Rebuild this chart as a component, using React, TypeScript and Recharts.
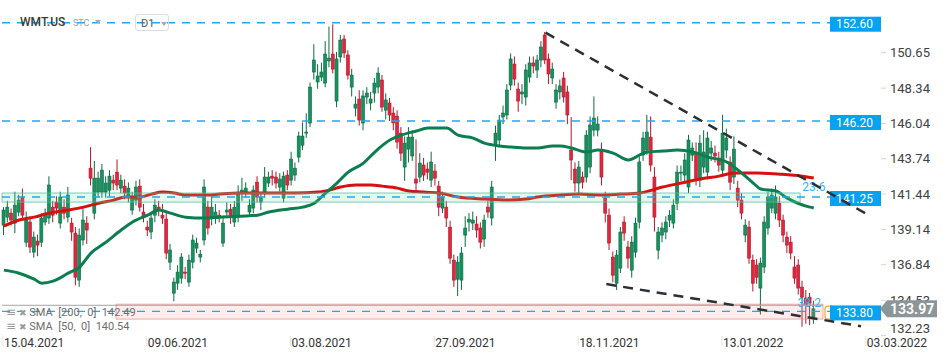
import React from "react";
import {
  ComposedChart,
  Bar,
  Line,
  XAxis,
  YAxis,
  ReferenceLine,
  ReferenceArea,
} from "recharts";

// daily candles, WMT.US D1
const opens = [
  139.42, 139.94, 140.2, 139.55, 140.27, 141.25, 138.31, 139.62, 137.66, 138.38,
  138.31, 139.62, 139.88, 140.59, 140.92, 139.55, 140.59, 139.94, 139.55, 138.9,
  135.84, 138.45, 139.55, 143.13, 140.2, 141.57, 141.57, 141.57, 141.7, 142.35,
  142.87, 141.83, 141.96, 141.25, 140.4, 141.05, 141.96, 140.27, 139.29, 138.97,
  140.07, 140.59, 140.07, 139.81, 137.01, 134.99, 135.64, 135.97, 136.36, 135.71,
  137.01, 137.92, 137.34, 138.45, 140.59, 139.94, 139.88, 140.07, 138.25, 140.27,
  140.46, 139.62, 139.94, 141.51, 141.57, 140.27, 140.53, 142.22, 140.92, 141.57,
  142.16, 142.61, 142.55, 141.9, 141.18, 142.68, 142.35, 142.68, 143.85, 144.63,
  145.41, 146.07, 149.39, 148.74, 149.06, 148.67, 150.11, 150.56, 147.5, 150.37,
  151.54, 150.5, 148.41, 147.04, 147.63, 146.07, 147.76, 147.37, 148.02, 148.41,
  148.87, 146.91, 147.37, 146.72, 146.52, 145.41, 143.2, 144.37, 143.92, 142.42,
  142.55, 143.33, 143.07, 142.35, 142.94, 141.96, 140.53, 140.59, 139.29, 137.14,
  135.9, 135.84, 138.77, 139.62, 139.55, 139.49, 139.23, 138.51, 140.59, 139.88,
  144.63, 144.96, 146.46, 146.59, 148.54, 149.91, 148.28, 147.96, 147.76, 149.06,
  149.98, 149.52, 150.17, 151.8, 150.24, 149.0, 147.43, 148.09, 149.0, 148.09,
  144.31, 143.07, 142.16, 142.55, 142.55, 143.2, 145.61, 145.61, 144.31, 141.18,
  140.07, 137.34, 135.64, 136.62, 139.62, 137.99, 136.49, 137.66, 139.62, 143.98,
  144.31, 145.15, 142.55, 137.79, 138.77, 138.97, 139.75, 139.55, 140.85, 142.81,
  142.68, 141.9, 143.98, 144.11, 142.35, 143.2, 142.87, 144.11, 144.11, 143.79,
  143.0, 144.31, 143.53, 142.55, 141.83, 141.05, 138.77, 139.29, 137.14, 136.82,
  135.32, 136.69, 139.23, 140.53, 140.2, 140.85, 139.75, 138.64, 138.31, 136.69,
  136.82, 135.38, 134.67, 134.73, 133.43,
];
const highs = [
  140.59, 141.0, 140.5, 141.6, 141.4, 141.8, 140.3, 140.0, 139.0, 138.8,
  140.2, 140.5, 142.6, 141.0, 141.3, 141.6, 141.1, 141.9, 139.9, 139.3,
  139.2, 140.6, 140.0, 144.5, 143.6, 142.9, 143.4, 142.6, 143.0, 142.7,
  143.7, 142.7, 142.4, 142.2, 141.6, 142.3, 142.4, 140.8, 139.7, 140.2,
  141.1, 141.0, 140.8, 140.2, 138.2, 136.0, 136.8, 137.6, 136.7, 137.5,
  138.8, 138.6, 137.8, 142.4, 141.0, 141.3, 140.8, 140.4, 139.9, 140.9,
  140.8, 141.0, 142.0, 142.5, 142.2, 141.1, 142.0, 142.6, 141.5, 143.2,
  142.9, 143.0, 142.9, 142.8, 142.9, 143.0, 144.2, 143.5, 145.5, 146.1,
  146.7, 148.7, 151.2, 149.9, 150.0, 151.4, 152.35, 152.5, 150.7, 151.8,
  151.8, 150.8, 149.6, 147.8, 148.2, 148.2, 148.4, 148.1, 149.0, 149.7,
  149.2, 148.0, 147.7, 147.1, 146.9, 145.8, 145.2, 145.8, 145.6, 145.0,
  144.1, 143.8, 143.5, 144.2, 143.4, 142.3, 141.6, 141.0, 139.7, 137.5,
  137.4, 138.0, 140.0, 140.2, 140.3, 140.0, 139.6, 140.1, 141.0, 142.3,
  145.9, 146.6, 147.2, 148.6, 150.6, 150.4, 148.7, 148.6, 149.9, 150.4,
  150.4, 150.5, 151.4, 152.0, 150.6, 150.0, 148.6, 148.9, 149.4, 148.5,
  146.46, 143.5, 143.6, 142.9, 145.6, 146.5, 147.8, 146.5, 144.8, 141.6,
  140.5, 137.7, 137.8, 139.3, 140.0, 138.4, 138.7, 139.9, 143.9, 145.5,
  146.6, 146.5, 143.2, 139.3, 139.6, 140.0, 140.4, 141.1, 143.3, 143.3,
  144.1, 145.3, 144.8, 144.8, 145.3, 145.6, 145.5, 144.9, 144.6, 144.2,
  146.6, 145.7, 143.9, 145.2, 142.3, 141.5, 139.8, 139.7, 137.5, 137.2,
  137.3, 140.0, 141.6, 141.8, 142.0, 141.3, 140.1, 139.0, 138.7, 137.4,
  137.2, 135.8, 135.2, 135.0, 134.5,
];
const lows = [
  138.77, 139.6, 139.4, 138.9, 140.0, 139.8, 138.0, 137.6, 137.3, 137.4,
  138.0, 139.4, 139.5, 139.6, 140.1, 139.2, 139.8, 139.6, 138.4, 135.5,
  135.4, 138.1, 138.2, 142.0, 139.8, 141.2, 141.2, 141.2, 141.3, 141.7,
  141.7, 141.5, 141.1, 140.9, 140.1, 140.7, 140.3, 139.6, 138.7, 138.5,
  139.6, 140.0, 139.5, 137.2, 136.5, 134.46, 135.2, 135.6, 135.9, 135.4,
  136.6, 137.6, 137.0, 138.1, 138.8, 139.4, 139.5, 139.6, 138.0, 139.9,
  139.5, 139.3, 139.6, 141.0, 141.2, 140.0, 140.2, 140.9, 140.4, 141.2,
  141.9, 142.0, 141.8, 141.6, 140.9, 141.7, 142.0, 142.3, 143.5, 144.3,
  145.1, 145.8, 148.9, 148.3, 148.8, 148.4, 149.7, 149.3, 147.1, 150.0,
  150.3, 148.9, 147.8, 146.5, 145.9, 145.6, 147.3, 146.9, 147.4, 148.0,
  146.8, 146.3, 146.2, 145.6, 144.4, 143.6, 142.3, 143.5, 143.6, 141.6,
  142.2, 142.3, 142.4, 141.9, 142.0, 140.0, 140.2, 139.3, 136.9, 135.4,
  134.8, 135.2, 138.0, 139.0, 139.1, 138.6, 137.9, 138.0, 139.9, 139.4,
  143.6, 144.5, 146.0, 146.3, 148.2, 148.5, 146.8, 147.3, 147.2, 148.7,
  149.3, 149.0, 149.7, 149.9, 148.6, 148.6, 147.0, 147.6, 147.4, 146.0,
  142.35, 141.6, 141.5, 141.8, 142.2, 142.8, 145.2, 145.2, 142.0, 139.6,
  137.8, 135.7, 135.2, 136.3, 138.4, 136.6, 136.0, 137.3, 139.2, 143.6,
  144.0, 142.9, 139.0, 137.2, 138.3, 138.5, 139.3, 139.2, 140.4, 142.3,
  142.2, 141.5, 143.6, 142.0, 141.9, 142.8, 142.4, 143.6, 143.5, 142.9,
  142.6, 143.8, 141.7, 142.1, 140.6, 139.8, 138.3, 136.9, 135.1, 135.6,
  133.6, 136.3, 138.8, 140.2, 139.8, 139.3, 138.3, 137.6, 137.2, 135.6,
  134.9, 132.8, 133.0, 132.9, 133.0,
];
const closes = [
  140.4, 140.59, 139.75, 140.72, 141.05, 140.07, 139.75, 137.99, 138.64, 138.12,
  139.88, 140.2, 142.03, 140.07, 140.53, 141.25, 140.2, 141.38, 138.97, 136.03,
  138.77, 139.75, 139.1, 142.48, 142.48, 142.48, 143.0, 142.16, 142.61, 142.16,
  142.03, 142.35, 141.51, 141.83, 141.25, 141.9, 140.59, 139.94, 139.1, 139.88,
  140.72, 140.4, 139.88, 137.6, 137.8, 135.71, 136.36, 137.34, 136.29, 137.14,
  138.45, 138.25, 137.53, 141.9, 139.23, 140.59, 140.27, 139.94, 139.55, 140.4,
  140.07, 140.59, 141.57, 141.7, 141.83, 140.72, 141.7, 141.25, 141.25, 142.55,
  142.55, 142.48, 142.16, 142.42, 142.61, 142.03, 143.72, 143.13, 145.22, 145.22,
  145.48, 148.41, 150.17, 149.13, 149.39, 150.56, 150.3, 149.58, 150.24, 151.47,
  150.63, 149.19, 149.19, 147.3, 146.26, 147.83, 148.02, 147.63, 148.67, 149.32,
  147.11, 147.57, 146.59, 146.07, 144.83, 144.11, 144.76, 145.15, 145.15, 142.16,
  143.46, 142.68, 142.87, 143.53, 142.48, 140.59, 141.25, 139.88, 137.27, 135.84,
  137.01, 137.6, 139.23, 139.81, 139.75, 139.1, 138.31, 139.75, 140.27, 141.9,
  145.41, 146.26, 146.72, 148.22, 150.24, 148.93, 147.5, 148.09, 149.52, 149.98,
  149.78, 150.17, 151.02, 150.17, 149.26, 149.58, 148.22, 148.48, 147.76, 146.59,
  143.66, 142.16, 143.2, 142.22, 145.28, 145.94, 146.39, 146.0, 142.55, 140.2,
  138.25, 136.16, 137.47, 138.97, 138.9, 137.27, 138.31, 139.55, 143.53, 145.09,
  145.48, 143.33, 139.94, 138.97, 139.23, 139.62, 140.07, 140.72, 142.87, 142.87,
  143.66, 144.96, 144.44, 142.48, 144.76, 144.18, 145.09, 144.44, 143.92, 143.33,
  145.41, 145.09, 142.22, 144.37, 141.05, 140.2, 139.42, 137.27, 135.64, 136.03,
  136.95, 139.62, 141.25, 141.38, 141.25, 139.75, 138.77, 138.12, 137.6, 135.97,
  135.32, 134.73, 134.21, 134.34, 133.97,
];

// moving averages, read at points along the curves (candle index -> value)
const sma50Idx = [
  0, 4, 8, 10, 13, 17, 20, 23, 27, 31, 34, 38, 41, 44, 48, 53, 57, 67, 70, 75,
  79, 82, 85, 88, 91, 95, 98, 102, 105, 109, 112, 117, 120, 124, 127, 131, 134,
  138, 141, 145, 147, 150, 154, 157, 161, 165, 169, 170, 174, 178, 182, 186,
  191, 194, 198, 200, 204, 207, 213, 214,
];
const sma50Val = [
  136.49, 136.29, 135.9, 135.64, 135.77, 136.29, 136.69, 137.6, 138.31, 139.1,
  139.62, 140.07, 140.4, 140.2, 139.94, 139.88, 139.94, 140.07, 140.27, 140.46,
  140.59, 140.85, 141.51, 142.16, 142.87, 143.46, 144.18, 144.96, 145.28, 145.55,
  145.74, 145.74, 145.28, 145.09, 144.76, 144.57, 144.5, 144.44, 144.44, 144.57,
  144.57, 144.44, 144.18, 144.31, 144.11, 143.66, 144.11, 144.18, 144.24, 144.31,
  144.18, 143.85, 143.53, 143.0, 142.16, 141.77, 141.64, 141.18, 140.59, 140.54,
];
const sma200Idx = [
  0, 4, 8, 12, 17, 21, 25, 29, 32, 36, 39, 42, 45, 48, 54, 57, 63, 72, 77, 83,
  86, 89, 93, 97, 100, 104, 107, 111, 115, 120, 127, 133, 138, 141, 147, 152,
  157, 163, 168, 174, 179, 184, 189, 193, 199, 205, 211, 214,
];
const sma200Val = [
  139.36, 139.75, 139.94, 140.2, 140.4, 140.59, 140.85, 141.05, 141.25, 141.25,
  141.44, 141.57, 141.51, 141.38, 141.38, 141.44, 141.51, 141.51, 141.51, 141.57,
  141.7, 141.9, 142.03, 142.03, 141.96, 141.83, 141.64, 141.57, 141.51, 141.25,
  141.12, 141.05, 141.12, 141.25, 141.38, 141.44, 141.38, 141.44, 141.51, 141.9,
  142.16, 142.42, 142.61, 142.81, 142.81, 142.74, 142.61, 142.49,
];

const tickIdx = [0, 38, 76, 114, 152, 190, 228];
const tickLabels = [
  "15.04.2021",
  "09.06.2021",
  "03.08.2021",
  "27.09.2021",
  "18.11.2021",
  "13.01.2022",
  "03.03.2022",
];
const priceTicks = [132.23, 134.53, 136.84, 139.14, 141.44, 143.74, 146.04, 148.34, 150.65];
const levels = [152.6, 146.2, 141.25, 133.8];
const lastPrice = 133.97;
const fib236 = [140.92, 141.51];
const fib382 = [133.3, 134.27];
const fibLine = 134.2;
const upperTrend = [
  { x: 143, y: 151.95 },
  { x: 228, y: 140.07 },
];
const lowerTrend = [
  { x: 159, y: 135.58 },
  { x: 226, y: 132.84 },
];
const SLOTS = 232;
const Y_DOMAIN = [132.2, 154.08];

const rows: any[] = [];
for (let i = 0; i < SLOTS; i++) {
  const r: any = { i };
  if (i < opens.length) {
    r.o = opens[i];
    r.h = highs[i];
    r.l = lows[i];
    r.c = closes[i];
    r.range = [lows[i], highs[i]];
  }
  rows.push(r);
}
sma50Idx.forEach((k, n) => (rows[k].sma50 = sma50Val[n]));
sma200Idx.forEach((k, n) => (rows[k].sma200 = sma200Val[n]));

const FONT = "Roboto, 'Noto Sans', sans-serif";

const Candle = (props: any) => {
  const { x, y, width, height, payload } = props;
  if (!payload || payload.o == null || isNaN(y) || isNaN(height)) return <g />;
  const { o, c, h, l } = payload;
  const top = Math.min(y, y + height);
  const span = Math.abs(height);
  const k = h === l ? 0 : span / (h - l);
  const py = (v: number) => top + (h - v) * k;
  const cx = x + width / 2;
  const up = c >= o;
  const fill = up ? "#17925f" : "#df283e";
  const edge = up ? "#0c6a43" : "#b3162a";
  const bt = py(Math.max(o, c));
  const bb = py(Math.min(o, c));
  return (
    <g>
      <line x1={cx} x2={cx} y1={top} y2={top + span} stroke={edge} strokeWidth={1} />
      <rect
        x={cx - 1.5}
        y={bt}
        width={3}
        height={Math.max(bb - bt, 1)}
        fill={fill}
        stroke={edge}
        strokeWidth={0.6}
      />
    </g>
  );
};

const blueTag = (text: string) => (props: any) => {
  const vb = props.viewBox || {};
  const right = vb.x + vb.width;
  const y = vb.y;
  return (
    <g>
      <rect x={right - 50} y={y - 6} width={51} height={15} fill="#03a3f2" />
      <text x={right - 44} y={y + 5.5} fill="#fff" fontSize={12} fontFamily={FONT}>
        {text}
      </text>
    </g>
  );
};

const priceTag = (props: any) => {
  const vb = props.viewBox || {};
  const x = vb.x + vb.width;
  const y = vb.y;
  return (
    <g>
      <polygon
        points={`${x},${y} ${x + 7},${y - 8.5} ${x + 57},${y - 8.5} ${x + 57},${y + 8.5} ${x + 7},${y + 8.5}`}
        fill="#8c9598"
      />
      <text x={x + 10} y={y + 5} fill="#fff" fontSize={14} fontWeight={700} fontFamily={FONT}>
        {lastPrice.toFixed(2)}
      </text>
    </g>
  );
};

const fibLabel = (text: string, where: "above" | "inside") => (props: any) => {
  const vb = props.viewBox || {};
  const right = vb.x + vb.width;
  if (where === "above") {
    return (
      <text x={right + 2} y={vb.y - 2} fill="#36aef2" fontSize={12} fontFamily={FONT}>
        {text}
      </text>
    );
  }
  return (
    <g>
      <rect x={right + 2} y={vb.y + 2} width={10} height={13} rx={3} fill="none" stroke="#f7a23a" strokeWidth={1.2} />
      <text x={right - 2} y={vb.y + 3} textAnchor="end" fill="#36aef2" fontSize={12} fontFamily={FONT}>
        {text}
      </text>
    </g>
  );
};

const YTick = (props: any) => {
  const { x, y, payload } = props;
  const ty = Math.min(y, 328.5);
  return (
    <g>
      <line x1={x + 1} x2={x + 6} y1={y} y2={y} stroke="#d5d5d5" />
      <text x={x + 10} y={ty + 4.5} fill="#3d4144" fontSize={13} fontFamily={FONT}>
        {Number(payload.value).toFixed(2)}
      </text>
    </g>
  );
};

const XTick = (props: any) => {
  const { x, y, payload } = props;
  const n = tickIdx.indexOf(payload.value);
  return (
    <g>
      <line x1={x - 1} x2={x - 1} y1={y} y2={y + 10} stroke="#e2e2e2" />
      <text x={x} y={y + 11} fill="#333" fontSize={12} fontFamily={FONT}>
        {n >= 0 ? tickLabels[n] : ""}
      </text>
    </g>
  );
};

const Tri = ({ left, top }: { left: number; top: number }) => (
  <div
    style={{
      position: "absolute",
      left,
      top,
      width: 0,
      height: 0,
      borderLeft: "3.5px solid transparent",
      borderRight: "3.5px solid transparent",
      borderTop: "4px solid #a9a9a9",
    }}
  />
);

const legendRow: React.CSSProperties = {
  position: "absolute",
  left: 6,
  fontFamily: FONT,
  fontSize: 11,
  color: "#6d6d6d",
  whiteSpace: "pre",
  lineHeight: "13px",
};

const layer: React.CSSProperties = { position: "absolute", left: 0, top: 0, pointerEvents: "none" };

export default function App() {
  return (
    <div style={{ position: "absolute", left: 0, top: 0, width: 950, height: 360, background: "#fff" }}>
      {/* price layer: candles, moving averages, axes */}
      <div style={layer}>
        <ComposedChart
          width={950}
          height={360}
          data={rows}
          margin={{ top: 0, right: 0, bottom: 0, left: 0 }}
          barCategoryGap={0}
        >
          <XAxis
            dataKey="i"
            type="category"
            height={24}
            padding={{ left: 2, right: 0 }}
            ticks={tickIdx}
            interval={0}
            tick={<XTick />}
            tickLine={false}
            axisLine={false}
            tickSize={0}
            tickMargin={0}
          />
          <YAxis
            orientation="right"
            width={70}
            domain={Y_DOMAIN}
            allowDataOverflow
            ticks={priceTicks}
            interval={0}
            tick={<YTick />}
            tickLine={false}
            axisLine={false}
            tickSize={0}
            tickMargin={0}
          />
          <Bar dataKey="range" barSize={3} shape={<Candle />} isAnimationActive={false} />
          <Line
            dataKey="sma200"
            type="monotone"
            connectNulls
            dot={false}
            activeDot={false}
            stroke="#d6110f"
            strokeWidth={3}
            isAnimationActive={false}
          />
          <Line
            dataKey="sma50"
            type="monotone"
            connectNulls
            dot={false}
            activeDot={false}
            stroke="#0b7d4e"
            strokeWidth={3}
            isAnimationActive={false}
          />
        </ComposedChart>
      </div>

      {/* drawing layer: fibo zones, levels, trend lines, price tag */}
      <div style={layer}>
        <ComposedChart
          width={950}
          height={360}
          data={rows}
          margin={{ top: 0, right: 0, bottom: 0, left: 0 }}
        >
          <XAxis
            dataKey="i"
            type="category"
            height={24}
            padding={{ left: 2, right: 0 }}
            tick={false}
            tickLine={false}
            axisLine={false}
          />
          <YAxis
            orientation="right"
            width={70}
            domain={Y_DOMAIN}
            allowDataOverflow
            tick={false}
            tickLine={false}
            axisLine={false}
          />
          <ReferenceArea
            y1={fib236[0]}
            y2={fib236[1]}
            x2={210}
            fill="rgba(110,215,170,0.35)"
            stroke="rgba(80,195,150,0.75)"
            strokeWidth={1}
            label={fibLabel("23.6", "above")}
          />
          <ReferenceArea
            y1={fib382[0]}
            y2={fib382[1]}
            x1={30}
            x2={216}
            fill="rgba(255,140,140,0.3)"
            stroke="rgba(240,130,130,0.7)"
            strokeWidth={1}
            label={fibLabel("38.2", "inside")}
          />
          <ReferenceLine
            segment={[
              { x: 0, y: fibLine },
              { x: 216, y: fibLine },
            ]}
            stroke="#a3a3a3"
            strokeWidth={1}
          />
          {levels.map((v) => (
            <ReferenceLine
              key={v}
              y={v}
              stroke="#1fa8ef"
              strokeWidth={1.3}
              strokeDasharray="8 7"
              label={blueTag(v.toFixed(2))}
            />
          ))}
          <ReferenceLine y={lastPrice} stroke="none" label={priceTag} />
          <ReferenceLine
            segment={upperTrend}
            stroke="#2b3033"
            strokeWidth={2.5}
            strokeDasharray="10 7"
          />
          <ReferenceLine
            segment={lowerTrend}
            stroke="#2b3033"
            strokeWidth={2.5}
            strokeDasharray="10 7"
          />
        </ComposedChart>
      </div>

      {/* header */}
      <div style={{ position: "absolute", left: 20, top: 15, fontFamily: FONT, fontSize: 12, fontWeight: 500, color: "#3a3a3a" }}>
        WMT.US
      </div>
      <div style={{ position: "absolute", left: 73, top: 18, fontFamily: FONT, fontSize: 9, color: "#9aa4a8" }}>STC</div>
      <Tri left={95} top={20} />
      <div
        style={{
          position: "absolute",
          left: 135,
          top: 14,
          width: 34,
          height: 17,
          border: "1px solid #dcdcdc",
          borderRadius: 3,
          fontFamily: FONT,
          fontSize: 11,
          color: "#555",
          lineHeight: "17px",
          paddingLeft: 5,
          boxSizing: "border-box",
        }}
      >
        D1
      </div>
      <Tri left={161} top={22} />

      {/* indicator legend */}
      <div style={{ ...legendRow, top: 306 }}>
        <span style={{ color: "#9b9b9b", fontFamily: "DejaVu Sans", fontSize: 12 }}>≡</span>
        <span style={{ color: "#9b9b9b", fontFamily: "DejaVu Sans", fontSize: 9 }}> ✖ </span>
        {"SMA  [200,  0]  142.49"}
      </div>
      <div style={{ ...legendRow, top: 320 }}>
        <span style={{ color: "#9b9b9b", fontFamily: "DejaVu Sans", fontSize: 12 }}>≡</span>
        <span style={{ color: "#9b9b9b", fontFamily: "DejaVu Sans", fontSize: 9 }}> ✖ </span>
        {"SMA  [50,  0]  140.54"}
      </div>
    </div>
  );
}
